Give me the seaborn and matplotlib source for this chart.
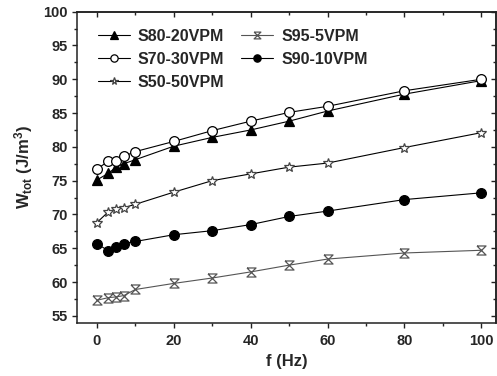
import numpy as np
import pandas as pd
import matplotlib
matplotlib.use("Agg")
import matplotlib.pyplot as plt
from matplotlib.path import Path
from matplotlib.ticker import MultipleLocator
import seaborn as sns

# Data
freq = [0, 3, 5, 7, 10, 20, 30, 40, 50, 60, 80, 100]
s80_20 = [75.1, 76.1, 77.0, 77.5, 78.1, 80.1, 81.4, 82.5, 83.8, 85.3, 87.8, 89.8]
s70_30 = [76.7, 77.9, 77.9, 78.6, 79.3, 80.8, 82.4, 83.8, 85.1, 86.0, 88.3, 90.0]
s50_50 = [68.8, 70.4, 70.8, 71.0, 71.5, 73.3, 75.0, 76.0, 77.0, 77.6, 79.9, 82.1]
s95_5 = [57.3, 57.7, 57.8, 58.0, 58.9, 59.8, 60.6, 61.5, 62.5, 63.4, 64.3, 64.7]
s90_10 = [65.7, 64.6, 65.2, 65.7, 66.0, 67.0, 67.6, 68.5, 69.7, 70.5, 72.2, 73.2]

sns.set_style("ticks")
plt.rcParams["font.family"] = ["Liberation Sans", "DejaVu Sans"]
plt.rcParams["font.weight"] = "bold"
plt.rcParams["mathtext.fontset"] = "custom"
plt.rcParams["mathtext.rm"] = "Liberation Sans:bold"
plt.rcParams["mathtext.bf"] = "Liberation Sans:bold"
plt.rcParams["mathtext.it"] = "Liberation Sans:bold"

# hourglass with cross, like the Origin symbol
hourglass = Path([(-1, 1), (1, 1), (-1, -1), (1, -1), (-1, 1)],
                 [Path.MOVETO, Path.LINETO, Path.LINETO, Path.LINETO, Path.LINETO])

fig = plt.figure(figsize=(4.97, 3.76), dpi=100)
ax = fig.add_axes([0.1555, 0.142, 0.8425, 0.827])

line_kw = dict(lw=0.8, mew=0.9)
sns.lineplot(x=freq, y=s80_20, ax=ax, color="black", marker="^", ms=7,
             mfc="black", mec="black", label="S80-20VPM", **line_kw)
sns.lineplot(x=freq, y=s70_30, ax=ax, color="black", marker="o", ms=7,
             mfc="white", mec="black", label="S70-30VPM", **line_kw)
sns.lineplot(x=freq, y=s50_50, ax=ax, color="black", marker="*", ms=7.5,
             mfc="white", mec="#444444", label="S50-50VPM", **line_kw)
sns.lineplot(x=freq, y=s95_5, ax=ax, color="#555555", marker=hourglass, ms=6.5,
             mfc="none", mec="#555555", label="S95-5VPM", **line_kw)
sns.lineplot(x=freq, y=s90_10, ax=ax, color="black", marker="o", ms=7,
             mfc="black", mec="black", label="S90-10VPM", **line_kw)

ax.set_xlim(-5.1, 103.8)
ax.set_ylim(54, 100)
ax.xaxis.set_major_locator(MultipleLocator(20))
ax.xaxis.set_minor_locator(MultipleLocator(10))
ax.yaxis.set_major_locator(MultipleLocator(5))
ax.yaxis.set_minor_locator(MultipleLocator(2.5))

for sp in ax.spines.values():
    sp.set_visible(True)
    sp.set_linewidth(1.1)
    sp.set_color("#222222")

ax.tick_params(which="both", direction="out", top=False, right=False,
               labelsize=10.5, width=1, color="#222222")
ax.tick_params(axis="x", which="major", pad=5)
ax.tick_params(axis="y", which="major", pad=3.5)
ax.tick_params(which="major", length=3.5)
ax.tick_params(which="minor", length=2)
for lab in ax.get_xticklabels() + ax.get_yticklabels():
    lab.set_fontweight("bold")

# inward mirrored ticks on top and right
sec_x = ax.secondary_xaxis("top")
sec_x.xaxis.set_major_locator(MultipleLocator(20))
sec_x.xaxis.set_minor_locator(MultipleLocator(10))
sec_x.tick_params(which="both", direction="in", labeltop=False, width=1, color="#222222")
sec_x.tick_params(which="major", length=3.5)
sec_x.tick_params(which="minor", length=2)
sec_y = ax.secondary_yaxis("right")
sec_y.yaxis.set_major_locator(MultipleLocator(5))
sec_y.yaxis.set_minor_locator(MultipleLocator(2.5))
sec_y.tick_params(which="both", direction="in", labelright=False, width=1, color="#222222")
sec_y.tick_params(which="major", length=3.5)
sec_y.tick_params(which="minor", length=2)
for s in (sec_x, sec_y):
    for sp in s.spines.values():
        sp.set_linewidth(1.1)
        sp.set_color("#222222")

ax.set_xlabel("f (Hz)", fontsize=12, fontweight="bold", labelpad=4)
ax.set_ylabel(r"W$_{\mathbf{tot}}$ (J/m$^{\mathbf{3}}$)", fontsize=12,
              fontweight="bold", labelpad=6)

ax.legend(ncol=2, frameon=False, loc="upper left", bbox_to_anchor=(0.034, 0.966),
          prop={"weight": "bold", "size": 11.5}, handlelength=2.0,
          handletextpad=0.5, columnspacing=1.05, labelspacing=0.5,
          borderaxespad=0.0, markerscale=0.75)

fig.savefig("out.png", dpi=100)
